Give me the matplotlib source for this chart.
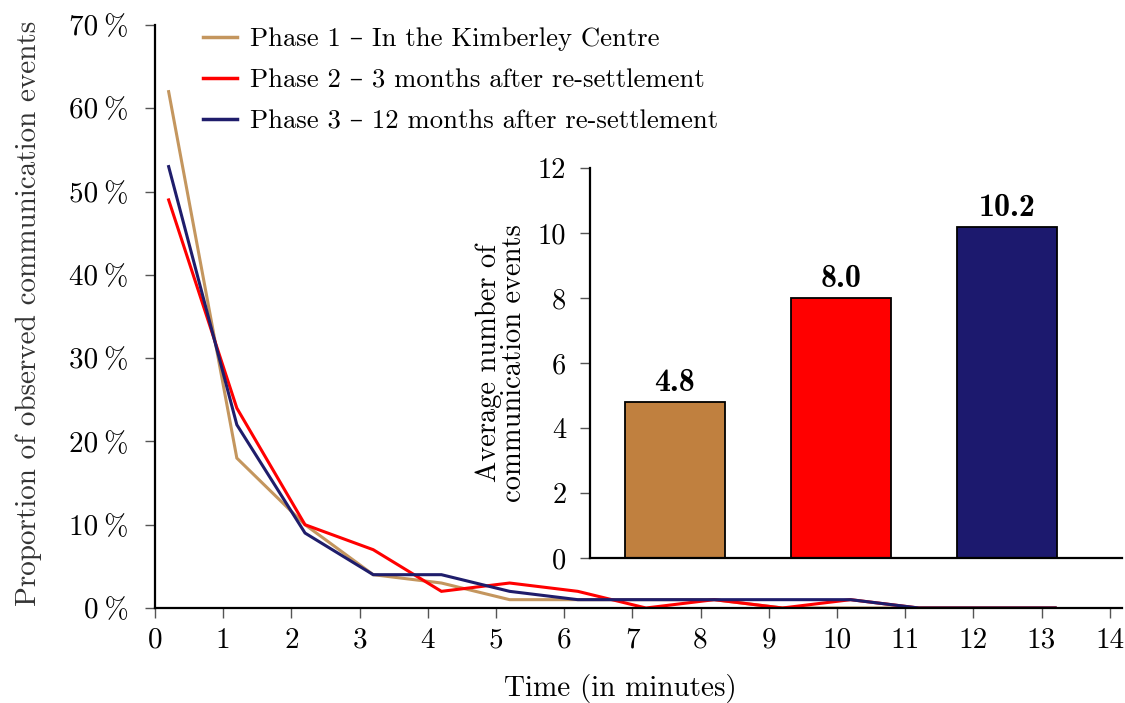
import matplotlib
matplotlib.use("Agg")
import matplotlib.pyplot as plt
import numpy as np

plt.rcParams['font.family'] = ['cmr10', 'DejaVu Serif']
plt.rcParams['axes.unicode_minus'] = False
plt.rcParams['mathtext.fontset'] = 'cm'

# ---- data ----
minutes = [0.2, 1.2, 2.2, 3.2, 4.2, 5.2, 6.2, 7.2, 8.2, 9.2, 10.2, 11.2, 12.2, 13.2]
phase1 = [62, 18, 10, 4, 3, 1, 1, 1, 1, 0, 0, 0, 0, 0]
phase2 = [49, 24, 10, 7, 2, 3, 2, 0, 1, 0, 1, 0, 0, 0]
phase3 = [53, 22, 9, 4, 4, 2, 1, 1, 1, 1, 1, 0, 0, 0]
series_labels = ["Phase 1 – In the Kimberley Centre",
                 "Phase 2 – 3 months after re-settlement",
                 "Phase 3 – 12 months after re-settlement"]
bar_values = [4.8, 8.0, 10.2]
bar_labels = ["4.8", "8.0", "10.2"]
y_ticks = [0, 10, 20, 30, 40, 50, 60, 70]
x_ticks = list(range(0, 15))
inset_ticks = [0, 2, 4, 6, 8, 10, 12]

line_colors = ["#C4965E", "#FF0000", "#1F1D6B"]
bar_colors = ["#C0803F", "#FF0000", "#1C196E"]

fig = plt.figure(figsize=(11.25, 7.03), dpi=100)
ax = fig.add_axes([155/1125, 95/703, (1122-155)/1125, (608-25)/703])

for ys, c, lab in zip([phase1, phase2, phase3], line_colors, series_labels):
    ax.plot(minutes, ys, color=c, lw=2.2, label=lab, solid_joinstyle='miter')

ax.set_xlim(0, 14.18)
ax.set_ylim(0, 70)
ax.set_xticks(x_ticks)
ax.set_xticklabels([str(t) for t in x_ticks])
ax.set_yticks(y_ticks)
ax.set_yticklabels([f"{t}\u2009%" for t in y_ticks])
for s in ['top', 'right']:
    ax.spines[s].set_visible(False)
for s in ['left', 'bottom']:
    ax.spines[s].set_linewidth(1.6)
ax.tick_params(axis='both', direction='out', labelsize=21, length=7, width=1.0, color='#555555')
ax.tick_params(axis='y', pad=12)
ax.tick_params(axis='x', pad=7)
ax.set_xlabel("Time (in minutes)", fontsize=21)
ax.xaxis.set_label_coords(0.481, -0.113)
ax.set_ylabel("Proportion of observed communication events", fontsize=21, color='#333333')
ax.yaxis.set_label_coords(-0.117, 0.505)

leg = ax.legend(loc='upper left', bbox_to_anchor=(0.0496, 0.996), frameon=False, fontsize=19.2,
                handlelength=1.28, handletextpad=0.5, labelspacing=0.66,
                borderpad=0, borderaxespad=0)
for h in leg.get_lines():
    h.set_linewidth(2.5)

# ---- inset ----
ax2 = fig.add_axes([590/1125, 145/703, (1122-590)/1125, (558-168)/703])
ax2.set_facecolor('none')
xpos = np.arange(len(bar_values))
bars = ax2.bar(xpos, bar_values, width=0.6, color=bar_colors, edgecolor='black', linewidth=1.3)
for b, lab in zip(bars, bar_labels):
    ax2.text(b.get_x() + b.get_width()/2, b.get_height() + 0.15, lab, ha='center', va='bottom',
             fontsize=23, fontfamily=['cmb10', 'DejaVu Serif'], fontweight='bold')
ax2.set_xlim(-0.51, 2.69)
ax2.set_ylim(0, 12)
ax2.set_yticks(inset_ticks)
ax2.set_yticklabels([str(t) for t in inset_ticks])
ax2.set_xticks([])
for s in ['top', 'right']:
    ax2.spines[s].set_visible(False)
for s in ['left', 'bottom']:
    ax2.spines[s].set_linewidth(1.6)
ax2.tick_params(axis='y', direction='out', labelsize=20.5, length=7, width=1.0, color='#555555', pad=10)
ax2.set_ylabel("Average number of\ncommunication events", fontsize=20.5, linespacing=0.95)
ax2.yaxis.set_label_coords(-0.118, 0.5)

fig.savefig("out.png", dpi=100)
